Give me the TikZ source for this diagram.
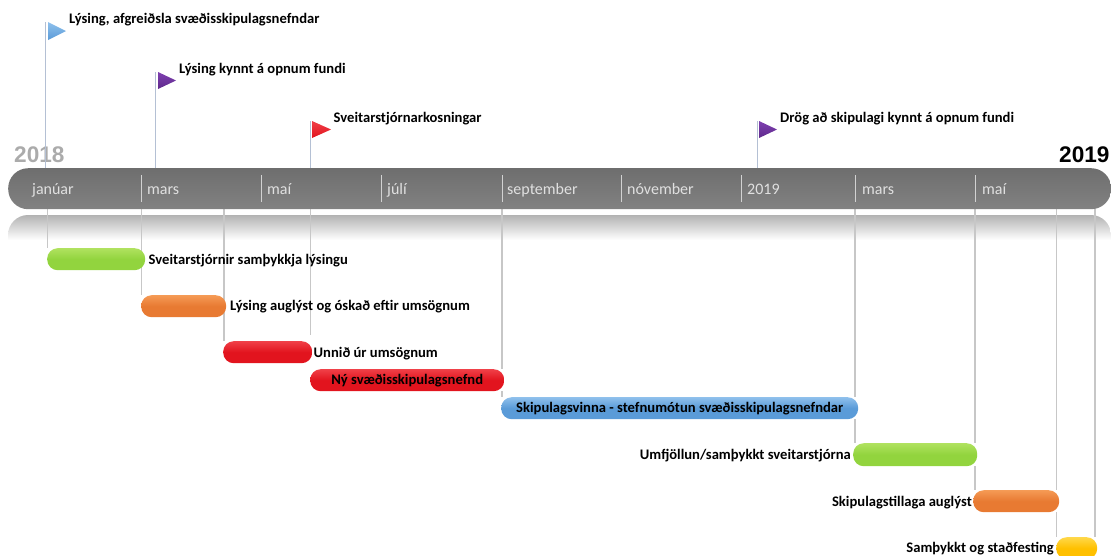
\documentclass[tikz,border=0pt]{standalone}
\usepackage{fontspec}
\setmainfont{Carlito}
\newfontfamily\yearfont{Liberation Sans}
\usetikzlibrary{backgrounds}
\definecolor{barGreen}{HTML}{92D43E}
\definecolor{barGreenT}{HTML}{B0E25F}
\definecolor{barOrange}{HTML}{E87A32}
\definecolor{barOrangeT}{HTML}{F59A55}
\definecolor{barRed}{HTML}{E2141E}
\definecolor{barRedT}{HTML}{F04048}
\definecolor{barBlue}{HTML}{5A9BD8}
\definecolor{barBlueT}{HTML}{8FC0EC}
\definecolor{barYellow}{HTML}{FFC000}
\definecolor{barYellowT}{HTML}{FFD84A}
\definecolor{flagV}{HTML}{7F3FB0}
\definecolor{flagVD}{HTML}{5E2A8C}
\definecolor{poleC}{HTML}{B4C0D4}
\tikzset{
  x=1pt,y=-1pt,
  pole/.style={draw=poleC,line width=0.9pt},
  stem/.style={draw=black!22,line width=1.5pt},
  lbl/.style={font=\fontsize{14.6}{16}\selectfont\bfseries,text=black,inner sep=0pt,anchor=base west},
  lblr/.style={lbl,anchor=base east},
  month/.style={font=\fontsize{16}{18}\selectfont,text=black!12,inner sep=0pt,anchor=base west},
  divider/.style={draw=white!65!gray,line width=0.6pt},
  year/.style={font=\yearfont\fontsize{22.6}{25}\selectfont\bfseries,inner sep=0pt,anchor=base west},
  bar/.style={rounded corners=10.5pt,inner sep=0pt,draw=none,anchor=north west,font=\fontsize{14.6}{16}\selectfont\bfseries,text=black},
  greenbar/.style={bar,top color=barGreenT,bottom color=barGreen,middle color=barGreen},
  orangebar/.style={bar,top color=barOrangeT,bottom color=barOrange,middle color=barOrange},
  redbar/.style={bar,top color=barRedT,bottom color=barRed,middle color=barRed},
  bluebar/.style={bar,top color=barBlueT,bottom color=barBlue,middle color=barBlue},
  yellowbar/.style={bar,top color=barYellowT,bottom color=barYellow,middle color=barYellow},
}
\newcommand{\barbox}[6]{\node[#1,minimum width=#4pt,minimum height=#5pt] (#2) at (#3) {#6};}
\begin{document}
\begin{tikzpicture}
\useasboundingbox (0,0) rectangle (1111,555);
% axis
\node[rounded corners=20pt,minimum width=1103pt,minimum height=41pt,inner sep=0pt,anchor=north west,top color=black!57,bottom color=black!49,draw=none] (axis) at (8,168) {};
% bars
\barbox{greenbar}{b1}{47,248}{98}{22}{}
\barbox{orangebar}{b2}{141,295}{85}{22}{}
\barbox{redbar}{b3}{223,341}{89}{22}{}
\barbox{redbar}{b4}{310,369}{194}{22}{Ný svæðisskipulagsnefnd}
\barbox{bluebar}{b5}{501,397}{357}{22}{Skipulagsvinna - stefnumótun svæðisskipulagsnefndar}
\barbox{greenbar}{b6}{853,443}{124}{23}{}
\barbox{orangebar}{b7}{973,490}{86}{22}{}
\barbox{yellowbar}{b8}{1056,537}{41}{22}{}
% stem ends on the axis
\coordinate (s1) at (47.5,209);
\coordinate (s2) at (141.5,209);
\coordinate (s3) at (224,209);
\coordinate (s4) at (310.5,209);
\coordinate (s5) at (502,209);
\coordinate (s6) at (855,209);
\coordinate (s7) at (975,209);
\coordinate (s8) at (1056.5,209);
\coordinate (s9) at (1095,209);
\coordinate (e4) at (310.5,335);
\begin{scope}[on background layer]
% reflection
\begin{scope}
\clip[rounded corners=20pt] (8,215) rectangle (1111,262);
\shade[top color=black!30,bottom color=white] (8,215) rectangle (1111,240);
\end{scope}
\draw[stem] (s1) -- (s1 |- b1.north);
\draw[stem] (s2) -- (s2 |- b2.north);
\draw[stem] (s3) -- (s3 |- b3.north);
\draw[stem] (s4) -- (e4);
\draw[stem] (s5) -- (s5 |- b4.north);
\draw[stem] (s5 |- b4.south) -- (s5 |- b5.north);
\draw[stem] (s6) -- (s6 |- b5.north);
\draw[stem] (s6 |- b5.south) -- (s6 |- b6.north);
\draw[stem] (s7) -- (s7 |- b6.north);
\draw[stem] (s7 |- b6.south) -- (s7 |- b7.north);
\draw[stem] (s8) -- (s8 |- b7.north);
\draw[stem] (s8 |- b7.south) -- (s8 |- b8.north);
\draw[stem] (s9) -- (s9 |- b8.north);
\end{scope}
% dividers
\foreach \x in {141.5,261,381,502,621,741,855.5,975.5}
  \draw[divider] (\x,175) -- (\x,202);
% month labels
\node[month] (m1) at (32,194) {janúar};
\node[month] (m2) at (147,194) {mars};
\node[month] (m3) at (267,194) {maí};
\node[month] (m4) at (387,194) {júlí};
\node[month] (m5) at (507,194) {september};
\node[month] (m6) at (627,194) {nóvember};
\node[month] (m7) at (747,194) {2019};
\node[month] (m8) at (862,194) {mars};
\node[month] (m9) at (982,194) {maí};
% years
\node[year,text=black!33] (y1) at (14,162) {2018};
\node[year,text=black] (y2) at (1059,162) {2019};
% flags
\coordinate (p1) at (45.5,168); \coordinate (p2) at (155.5,168); \coordinate (p3) at (310.5,168); \coordinate (p4) at (757,168);
\draw[pole] (p1) -- (45.5,22);
\draw[pole] (p2) -- (155.5,72);
\draw[pole] (p3) -- (310.5,121);
\draw[pole] (p4) -- (757,121);
\shade[top color=barBlueT,bottom color=barBlue] (48,22) -- (66,31) -- (48,40) -- cycle;
\shade[top color=flagV,bottom color=flagVD] (158,72) -- (176,80.5) -- (158,89) -- cycle;
\shade[top color=barRedT,bottom color=barRed] (312,121) -- (331,129.5) -- (312,138) -- cycle;
\shade[top color=flagV,bottom color=flagVD] (759,121) -- (777,129.5) -- (759,138) -- cycle;
% labels
\node[lbl] (t1) at (69,23) {Lýsing, afgreiðsla svæðisskipulagsnefndar};
\node[lbl] (t2) at (179,73) {Lýsing kynnt á opnum fundi};
\node[lbl] (t3) at (333.5,122) {Sveitarstjórnarkosningar};
\node[lbl] (t4) at (780,122) {Drög að skipulagi kynnt á opnum fundi};
\node[lbl] (t5) at (148.5,264) {Sveitarstjórnir samþykkja lýsingu};
\node[lbl] (t6) at (230,310) {Lýsing auglýst og óskað eftir umsögnum};
\node[lbl] (t7) at (313.5,357) {Unnið úr umsögnum};
\node[lblr] (t8) at (851,459) {Umfjöllun/samþykkt sveitarstjórna};
\node[lblr] (t9) at (972,506) {Skipulagstillaga auglýst};
\node[lblr] (t10) at (1054,552) {Samþykkt og staðfesting};
\end{tikzpicture}
\end{document}
